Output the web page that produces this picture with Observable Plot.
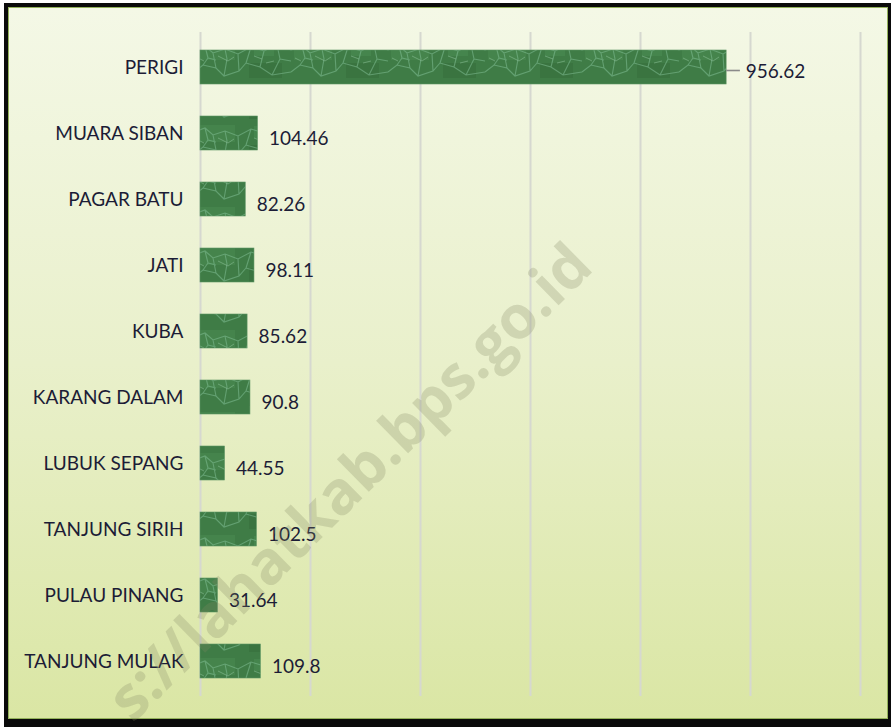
<!DOCTYPE html>
<html>
<head>
<meta charset="utf-8">
<script src="https://cdn.jsdelivr.net/npm/d3@7"></script>
<script src="https://cdn.jsdelivr.net/npm/@observablehq/plot@0.6"></script>
<style>
  html, body { margin: 0; padding: 0; background: #ffffff; }
  #wrap { position: relative; width: 891px; height: 727px; overflow: hidden; }
  #frame { position: absolute; left: 4px; top: 3px; width: 887px; height: 724px; background: #0a0a0a; }
  #panel { position: absolute; left: 8px; top: 7px; width: 878px; height: 710px;
           border: 1px solid #93b15a;
           background: linear-gradient(to bottom, #f4f8e6 0%, #e9f0cb 50%, #dae6a4 100%); }
  #chart { position: absolute; left: 0; top: 0; }
  #wm { position: absolute; left: 348px; top: 480px; transform: translate(-50%, -50%) rotate(-44.5deg);
        font-family: "Open Sans", sans-serif; font-weight: 700; font-size: 60px;
        color: rgba(130, 135, 100, 0.26); white-space: nowrap; pointer-events: none; }
</style>
</head>
<body>
<div id="wrap">
  <div id="frame"></div>
  <div id="panel"></div>
  <div id="chart"></div>
  <div id="wm">s://lahatkab.bps.go.id</div>
</div>
<script>
const names = ["PERIGI", "MUARA SIBAN", "PAGAR BATU", "JATI", "KUBA", "KARANG DALAM",
               "LUBUK SEPANG", "TANJUNG SIRIH", "PULAU PINANG", "TANJUNG MULAK"];
const values = [956.62, 104.46, 82.26, 98.11, 85.62, 90.8, 44.55, 102.5, 31.64, 109.8];
const labels = ["956.62", "104.46", "82.26", "98.11", "85.62", "90.8", "44.55", "102.5", "31.64", "109.8"];
const gridTicks = [0, 200, 400, 600, 800, 1000, 1200];

const data = names.map((name, i) => ({name, value: values[i], label: labels[i]}));
const big = data.filter(d => d.value > 500);
const small = data.filter(d => d.value <= 500);

const chart = Plot.plot({
  width: 891,
  height: 727,
  marginLeft: 200,
  marginRight: 31,
  marginTop: 32,
  marginBottom: 31,
  style: {background: "transparent", fontFamily: "Lato, sans-serif"},
  x: {domain: [0, 1200], axis: null},
  y: {domain: names, paddingInner: 0.49, paddingOuter: 0.245, axis: null},
  marks: [
    Plot.ruleX(gridTicks, {stroke: "#d6d8d0", strokeWidth: 2}),
    Plot.barX(data, {x: "value", y: "name", fill: "url(#leaf)", stroke: "#5d9463", strokeWidth: 0.6}),
    Plot.axisY({tickSize: 0, tickPadding: 17, fontSize: 19, fill: "#1c1c36", textAnchor: "end", label: null}),
    Plot.ruleY(big, {y: "name", x1: "value", x2: d => d.value + 25, stroke: "#8a8a8a", strokeWidth: 1.6, dy: 3}),
    Plot.text(big, {x: "value", y: "name", text: "label", textAnchor: "start", dx: 19, dy: 4,
                    fontSize: 19, fill: "#1c1c36"}),
    Plot.text(small, {x: "value", y: "name", text: "label", textAnchor: "start", dx: 11, dy: 5,
                      fontSize: 19, fill: "#1c1c36"})
  ]
});

// textured green fill for the bars
const ns = "http://www.w3.org/2000/svg";
const defs = document.createElementNS(ns, "defs");
defs.innerHTML = `
  <pattern id="leaf" patternUnits="userSpaceOnUse" width="97" height="41">
    <rect width="97" height="41" fill="#3f7c46"/>
    <rect x="3" y="2" width="38" height="17" fill="#46864d" opacity="0.8"/>
    <rect x="55" y="22" width="33" height="15" fill="#38723f" opacity="0.8"/>
    <rect x="60" y="3" width="20" height="12" fill="#4a8a52" opacity="0.6"/>
    <path d="M0 9 L11 5 L19 12 L31 8 L44 13 L57 6 L70 10 L83 4 L97 9
             M0 31 L9 24 L22 27 L30 35 L45 30 L52 22 L66 26 L78 34 L97 31
             M11 5 L14 17 L9 24 M19 12 L22 27 M44 13 L45 30 M57 6 L52 22 M70 10 L66 26 M83 4 L86 18 L78 34
             M31 8 L33 18 L30 35 M14 17 L22 19 M86 18 L97 20"
          fill="none" stroke="#7fbd93" stroke-width="1.1" opacity="0.55"/>
    <path d="M24 15 L34 20 L40 16 M60 15 L68 18 M4 17 L10 20 M72 22 L80 20"
          fill="none" stroke="#a3d6b2" stroke-width="0.9" opacity="0.45"/>
  </pattern>`;
chart.insertBefore(defs, chart.firstChild);
document.getElementById("chart").appendChild(chart);
</script>
</body>
</html>
